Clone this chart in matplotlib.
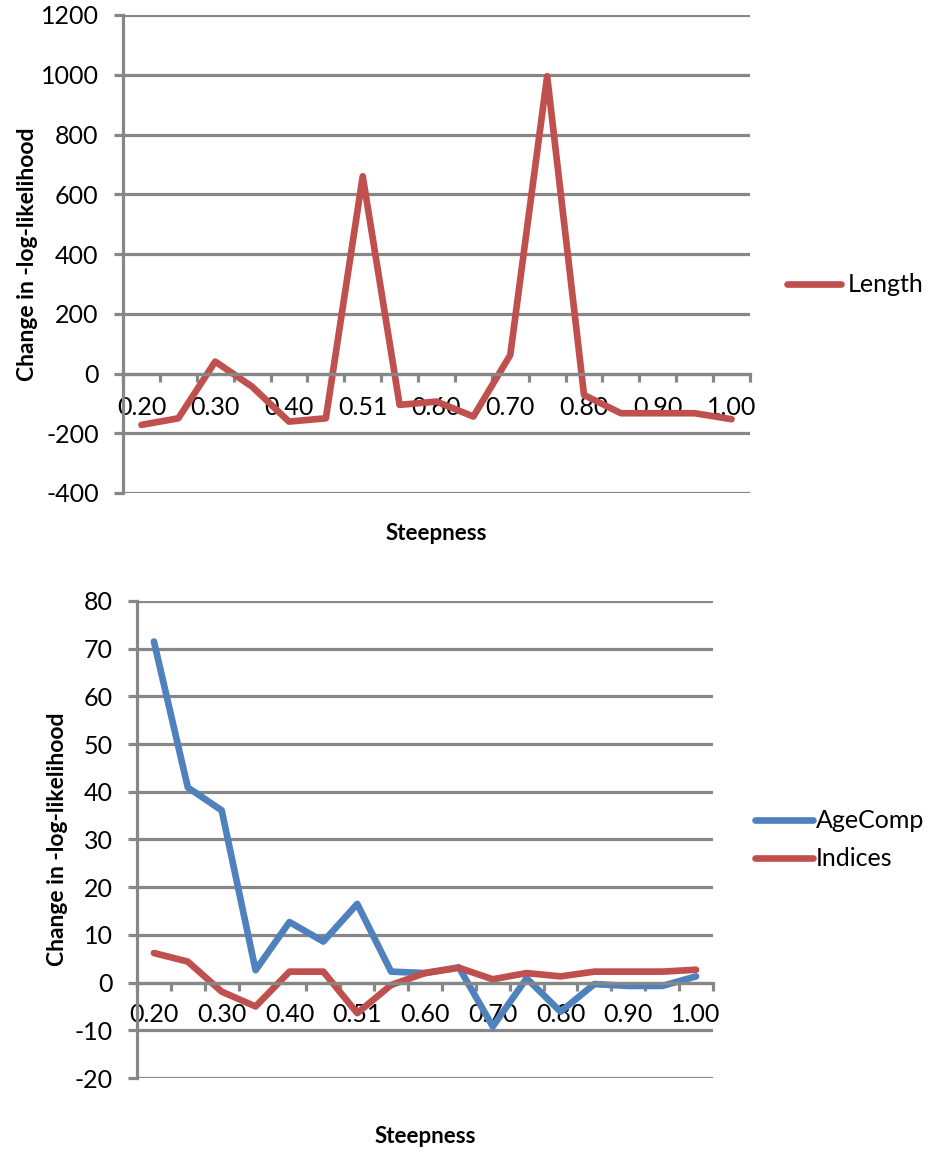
import matplotlib
matplotlib.use("Agg")
import matplotlib.pyplot as plt
import numpy as np

plt.rcParams['font.family'] = ['Lato', 'DejaVu Sans']
plt.rcParams['axes.unicode_minus'] = False

steepness = ["0.20", "0.25", "0.30", "0.35", "0.40", "0.45", "0.51", "0.55", "0.60",
             "0.65", "0.70", "0.75", "0.80", "0.85", "0.90", "0.95", "1.00"]
length = [-172, -150, 40, -44, -161, -150, 660, -105, -94,
          -144, 62, 995, -72, -133, -133, -133, -153]
agecomp = [71.5, 40.9, 36.1, 2.6, 12.7, 8.6, 16.5, 2.3, 2.0,
           3.2, -9.2, 0.9, -6.1, -0.3, -0.7, -0.7, 1.3]
indices = [6.2, 4.4, -1.9, -5.0, 2.3, 2.3, -6.4, -0.5, 2.0,
           3.1, 0.7, 2.0, 1.3, 2.3, 2.3, 2.3, 2.7]

red = "#C0504D"
blue = "#4F81BD"
grey = "#878787"
fs = 18

fig = plt.figure(figsize=(9.35, 11.52), dpi=100)


def style_axes(ax, ylim, ystep, labelpad):
    x = np.arange(len(steepness))
    ax.set_xlim(-0.5, len(steepness) - 0.5)
    ax.set_ylim(*ylim)
    ax.set_yticks(np.arange(ylim[0], ylim[1] + 1, ystep))
    ax.yaxis.grid(True, color=grey, linewidth=2.3)
    ax.set_axisbelow(True)
    for s in ["top", "right"]:
        ax.spines[s].set_visible(False)
    ax.spines["left"].set_color(grey)
    ax.spines["left"].set_linewidth(2.3)
    ax.spines["bottom"].set_position(("data", 0))
    ax.spines["bottom"].set_color(grey)
    ax.spines["bottom"].set_linewidth(2.3)
    ax.set_xticks(x[::2])
    ax.set_xticklabels(steepness[::2])
    ax.set_xticks(np.arange(-0.5, len(steepness)), minor=True)
    ax.tick_params(axis="x", which="major", length=0, pad=labelpad, labelsize=fs)
    ax.tick_params(axis="x", which="minor", length=6, width=2.3, color=grey, direction="out")
    ax.tick_params(axis="y", length=6.5, width=2.3, color=grey, pad=11, labelsize=fs)
    return x


# top panel
ax1 = fig.add_axes([123 / 935, 1 - 493 / 1152, (750 - 123) / 935, (493 - 15) / 1152])
x = style_axes(ax1, (-400, 1200), 200, 16.5)
ax1.plot(x, length, color=red, linewidth=4.8, solid_capstyle="round", label="Length")
ax1.set_ylabel("Change in -log-likelihood", fontsize=16.5, fontweight="bold")
ax1.yaxis.set_label_coords(-0.136, 0.5)
ax1.set_xlabel("Steepness", fontsize=16, fontweight="bold")
ax1.xaxis.set_label_coords(0.5, -0.062)
ax1.legend(loc="center left", bbox_to_anchor=(787 / 935, 1 - 285 / 1152),
           bbox_transform=fig.transFigure, frameon=False, fontsize=fs,
           handlelength=2.15, handletextpad=0.3, borderpad=0, borderaxespad=0)

# bottom panel
ax2 = fig.add_axes([137 / 935, 1 - 1078 / 1152, (713 - 137) / 935, (1078 - 601) / 1152])
x = style_axes(ax2, (-20, 80), 10, 15)
ax2.plot(x, agecomp, color=blue, linewidth=4.8, solid_capstyle="round", label="AgeComp")
ax2.plot(x, indices, color=red, linewidth=4.8, solid_capstyle="round", label="Indices")
ax2.set_ylabel("Change in -log-likelihood", fontsize=16.5, fontweight="bold")
ax2.yaxis.set_label_coords(-0.12, 0.5)
ax2.set_xlabel("Steepness", fontsize=16, fontweight="bold")
ax2.xaxis.set_label_coords(0.5, -0.1)
ax2.legend(loc="center left", bbox_to_anchor=(755 / 935, 1 - 840 / 1152),
           bbox_transform=fig.transFigure, frameon=False, fontsize=fs,
           handlelength=2.3, handletextpad=0.12, borderpad=0, borderaxespad=0,
           labelspacing=0.6)

fig.savefig("out.png", dpi=100)
